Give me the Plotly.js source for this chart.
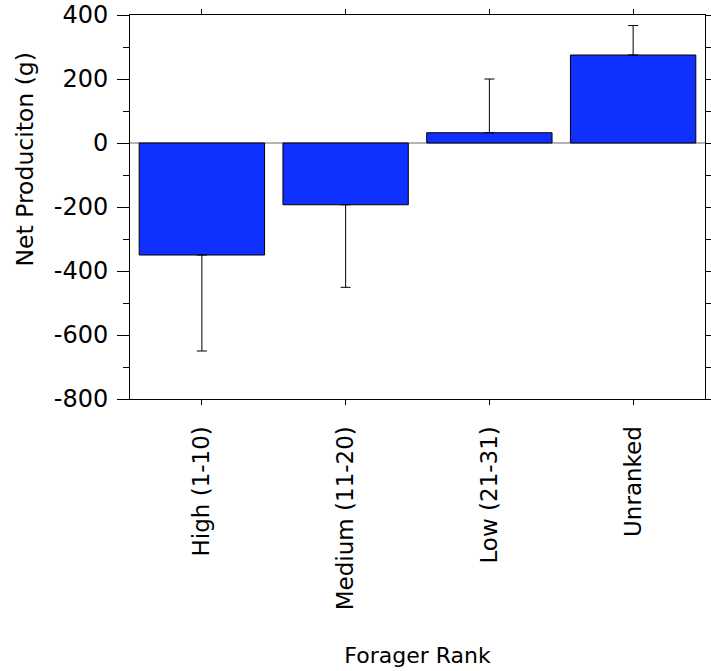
<!DOCTYPE html>
<html>
<head>
<meta charset="utf-8">
<script src="https://cdn.plot.ly/plotly-3.0.1.min.js"></script>
<style>
  html, body { margin: 0; padding: 0; background: #ffffff; }
  #chart { width: 711px; height: 671px; }
</style>
</head>
<body>
<div id="chart"></div>
<script>
// Forager rank groups and mean net production (g) with one-sided error bars
const ranks = ['High (1-10)', 'Medium (11-20)', 'Low (21-31)', 'Unranked'];
const netProduction = [-350, -193, 32, 275];
const errUp = [0, 0, 168, 92];
const errDown = [300, 258, 0, 0];
const yTickValues = [-800, -600, -400, -200, 0, 200, 400];
const xTitle = 'Forager Rank';
const yTitle = 'Net Produciton (g)';

const font = 'DejaVu Sans, Verdana, sans-serif';

const trace = {
  type: 'bar',
  x: ranks,
  y: netProduction,
  marker: {
    color: '#1030ff',
    line: { color: '#000000', width: 1 }
  },
  error_y: {
    type: 'data',
    symmetric: false,
    array: errUp,
    arrayminus: errDown,
    color: '#000000',
    thickness: 1,
    width: 5
  },
  hoverinfo: 'none'
};

const layout = {
  width: 711,
  height: 671,
  margin: { l: 130, r: 6, t: 15, b: 272 },
  paper_bgcolor: '#ffffff',
  plot_bgcolor: '#ffffff',
  bargap: 0.128,
  showlegend: false,
  font: { family: font, color: '#000000' },
  xaxis: {
    type: 'category',
    range: [-0.5, 3.5],
    showgrid: false,
    zeroline: false,
    showline: true,
    linecolor: '#000000',
    linewidth: 1,
    mirror: 'allticks',
    ticks: 'outside',
    ticklen: 5,
    tickwidth: 1,
    tickcolor: '#000000',
    tickangle: -90,
    tickfont: { family: font, size: 23, color: '#000000' },
    ticklabelstandoff: 12,
    title: { text: xTitle, font: { family: font, size: 22, color: '#000000' }, standoff: 38 }
  },
  yaxis: {
    range: [-800, 400],
    tickvals: yTickValues,
    ticktext: yTickValues.map(String),
    showgrid: false,
    zeroline: true,
    zerolinecolor: '#b4b4b4',
    zerolinewidth: 1.5,
    showline: true,
    linecolor: '#000000',
    linewidth: 1,
    mirror: 'allticks',
    ticks: 'outside',
    ticklen: 12,
    tickwidth: 1,
    tickcolor: '#000000',
    tickfont: { family: font, size: 24, color: '#000000' },
    ticklabelstandoff: 4,
    minor: { dtick: 100, tick0: 0, ticks: 'outside', ticklen: 6, tickwidth: 1, tickcolor: '#000000', showgrid: false }
  },
  // vertical axis title, set a little above the centre of the axis
  annotations: [{
    text: yTitle,
    xref: 'paper', yref: 'paper',
    x: -0.183, y: 0.623,
    xanchor: 'center', yanchor: 'middle',
    textangle: -90,
    showarrow: false,
    font: { family: font, size: 23.5, color: '#000000' }
  }]
};

Plotly.newPlot('chart', [trace], layout, { staticPlot: true, displayModeBar: false });
</script>
</body>
</html>
